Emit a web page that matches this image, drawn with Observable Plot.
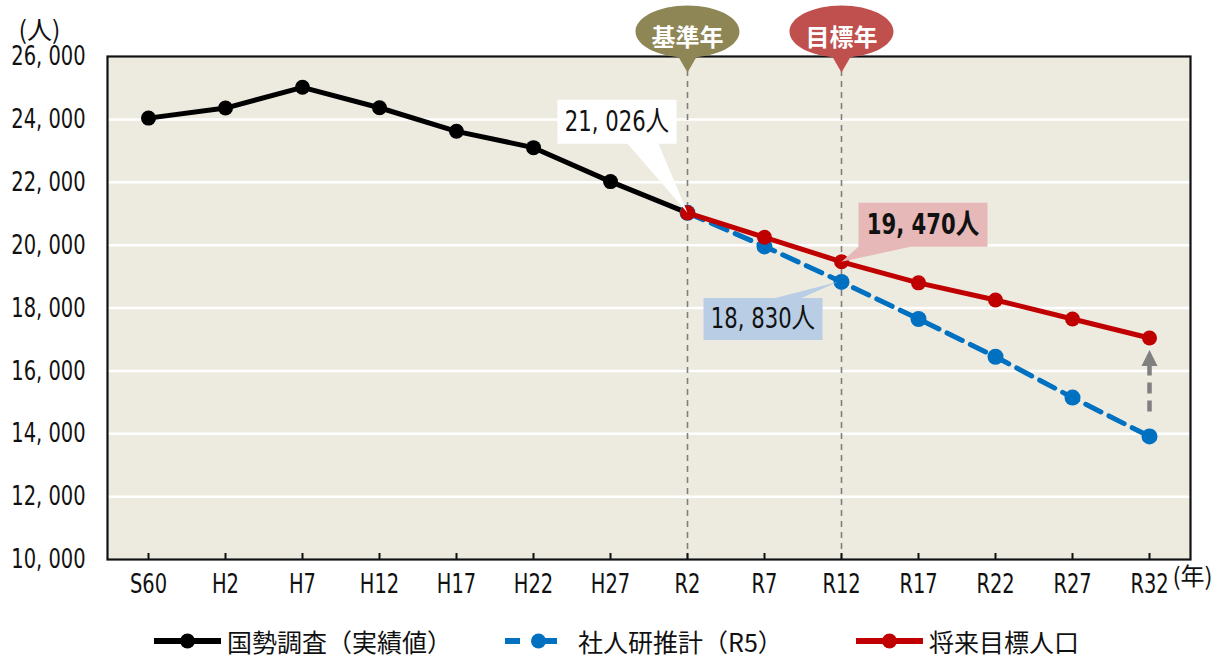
<!DOCTYPE html>
<html>
<head>
<meta charset="utf-8">
<script src="https://cdn.jsdelivr.net/npm/d3@7"></script>
<script src="https://cdn.jsdelivr.net/npm/@observablehq/plot@0.6"></script>
<style>
  html, body { margin: 0; padding: 0; background: #ffffff; }
  body { width: 1223px; height: 657px; overflow: hidden;
         font-family: "DejaVu Sans Condensed", "Noto Sans CJK JP", sans-serif; }
  #legend { height: 57px; padding-top: 24px; box-sizing: border-box; display: flex; justify-content: center; align-items: center;
            font-family: "Noto Sans CJK JP", sans-serif; font-size: 25px; color: #111; padding-left: 10px; }
  .item { display: flex; align-items: center; }
  .item svg { margin-right: 6px; }
</style>
</head>
<body>
<div id="chart"></div>
<div id="legend"></div>
<script>
// ---- data ----
const xLabels = ["S60","H2","H7","H12","H17","H22","H27","R2","R7","R12","R17","R22","R27","R32"];
const censusYears = ["S60","H2","H7","H12","H17","H22","H27","R2"];
const censusValues = [24040, 24360, 25020, 24370, 23620, 23100, 22020, 21026];
const projYears = ["R2","R7","R12","R17","R22","R27","R32"];
const ipssValues = [21026, 19960, 18830, 17650, 16450, 15150, 13915];
const targetValues = [21026, 20250, 19470, 18800, 18255, 17650, 17045];
const yTicks = [10000, 12000, 14000, 16000, 18000, 20000, 22000, 24000, 26000];
const seriesNames = ["国勢調査（実績値）", "社人研推計（R5）", "将来目標人口"];
const seriesColors = ["#000000", "#0070C0", "#C00000"];
const markerYears = ["R2", "R12"];
const markerLabels = ["基準年", "目標年"];
const markerColors = ["#8F8656", "#C0504D"];
const calloutYears = ["R2", "R12", "R12"];
const calloutValues = [21026, 19470, 18830];
const calloutLabels = ["21, 026人", "19, 470人", "18, 830人"];
const calloutFills = ["#FFFFFF", "#E6B9B8", "#B9CDE5"];
const yUnit = "(人)";
const xUnit = "(年)";

// ---- tables ----
const census = censusYears.map((x, i) => ({x, y: censusValues[i]}));
const ipss = projYears.map((x, i) => ({x, y: ipssValues[i]}));
const target = projYears.map((x, i) => ({x, y: targetValues[i]}));
const markers = markerYears.map((x, i) => ({x, label: markerLabels[i], color: markerColors[i]}));
const callouts = calloutYears.map((x, i) => ({x, y: calloutValues[i], label: calloutLabels[i], fill: calloutFills[i]}));
const lastIdx = projYears.length - 1;
const gap = [{x: projYears[lastIdx], top: targetValues[lastIdx], bottom: ipssValues[lastIdx]}];

// ---- custom shapes (styling) ----
function polySymbol(pts) {
  let a = 0;
  for (let i = 0; i < pts.length; i++) { const p = pts[i], q = pts[(i + 1) % pts.length]; a += p[0] * q[1] - q[0] * p[1]; }
  const P = a < 0 ? pts.slice().reverse() : pts;
  return { draw(ctx) { ctx.moveTo(P[0][0], P[0][1]); for (let i = 1; i < P.length; i++) ctx.lineTo(P[i][0], P[i][1]); ctx.closePath(); } };
}
const bubble = {
  draw(ctx) {
    const rx = 52, ry = 26, cy = -25, k = 0.5523;
    ctx.moveTo(rx, cy);
    ctx.bezierCurveTo(rx, cy + k * ry, k * rx, cy + ry, 0, cy + ry);
    ctx.bezierCurveTo(-k * rx, cy + ry, -rx, cy + k * ry, -rx, cy);
    ctx.bezierCurveTo(-rx, cy - k * ry, -k * rx, cy - ry, 0, cy - ry);
    ctx.bezierCurveTo(k * rx, cy - ry, rx, cy - k * ry, rx, cy);
    ctx.closePath();
    ctx.moveTo(11, cy + ry - 4);
    ctx.lineTo(0, 16);
    ctx.lineTo(-11, cy + ry - 4);
    ctx.closePath();
  }
};
const calloutShapes = [
  polySymbol([[-130,-113],[-11,-113],[-11,-69],[-29,-69],[0,0],[-60,-69],[-130,-69]]),
  polySymbol([[17,-59],[146,-59],[146,-15],[69,-15],[0,0],[17,-15]]),
  polySymbol([[-138,16],[-66,16],[-4,0],[-40,16],[-19,16],[-19,58],[-138,58]])
];
const calloutText = [[-70.5, -91], [81.5, -37], [-78.5, 37]];
const arrowHead = polySymbol([[0,12],[8,28],[-8,28]]);

const W = 1223, H = 600;
const mT = 56, mB = 41, mL = 107, mR = 33;
const fontStack = '"DejaVu Sans Condensed", "Noto Sans CJK JP", sans-serif';
const cjk = '"Noto Sans CJK JP", sans-serif';

const marks = [
  Plot.frame({fill: "#EDEAE0", stroke: null}),
  Plot.gridY(yTicks, {stroke: "#ffffff", strokeOpacity: 1, strokeWidth: 2.5}),
  Plot.ruleX(markerYears, {stroke: "#7f7f7f", strokeWidth: 1.6, strokeDasharray: "6,5", insetTop: 14}),
  Plot.axisY({ticks: yTicks, tickSize: 0, tickPadding: 22, fontSize: 27, tickFormat: d => d3.format(",")(d).replace(",", ", "), label: null}),
  Plot.axisX({tickSize: -6, tickPadding: 20, fontSize: 27, strokeWidth: 2, label: null}),
  Plot.text([yUnit], {frameAnchor: "top-left", dx: -89, dy: -35, textAnchor: "start", fontSize: 25, fill: "#111", fontFamily: cjk}),
  Plot.text([xUnit], {frameAnchor: "bottom-right", dx: -18, dy: 25, textAnchor: "start", fontSize: 24, fill: "#111", fontFamily: cjk}),
  // gap arrow
  Plot.ruleX(gap, {x: "x", y1: "top", y2: "bottom", stroke: "#808080", strokeWidth: 4.5, strokeDasharray: "11,7", insetTop: 27, insetBottom: 21}),
  Plot.dot([{x: projYears[lastIdx], y: targetValues[lastIdx]}], {x: "x", y: "y", r: 1, symbol: arrowHead, fill: "#808080", stroke: null}),
  // series
  Plot.line(census, {x: "x", y: "y", stroke: seriesColors[0], strokeWidth: 5}),
  Plot.dot(census, {x: "x", y: "y", r: 7.5, fill: seriesColors[0], stroke: null}),
  Plot.line(ipss, {x: "x", y: "y", stroke: seriesColors[1], strokeWidth: 5, strokeDasharray: "17,9"}),
  Plot.dot(ipss, {x: "x", y: "y", r: 8, fill: seriesColors[1], stroke: null}),
  Plot.line(target, {x: "x", y: "y", stroke: seriesColors[2], strokeWidth: 5}),
  Plot.dot(target, {x: "x", y: "y", r: 7.5, fill: seriesColors[2], stroke: null}),
  Plot.frame({stroke: "#111", strokeWidth: 2.2, fill: null}),
  // marker bubbles
  Plot.dot(markers, {x: "x", frameAnchor: "top", r: 1, symbol: bubble, fill: "color", stroke: null, ariaLabel: "shadow-bubble"}),
  Plot.text(markers, {x: "x", text: "label", frameAnchor: "top", dy: -28, fill: "white", fontSize: 24, fontWeight: "bold", fontFamily: cjk}),
];
callouts.forEach((c, i) => {
  marks.push(Plot.dot([c], {x: "x", y: "y", r: 1, symbol: calloutShapes[i], fill: "fill", stroke: null, ariaLabel: "shadow-callout"}));
  marks.push(Plot.text([c], {x: "x", y: "y", text: "label", dx: calloutText[i][0], dy: calloutText[i][1], fontSize: 28,
    fontWeight: i === 1 ? "bold" : "normal", fill: "#111"}));
});

const chart = Plot.plot({
  width: W, height: H,
  marginTop: mT, marginBottom: mB, marginLeft: mL, marginRight: mR,
  style: {fontFamily: fontStack, fontSize: "27px", background: "white", color: "#111", overflow: "visible"},
  x: {type: "point", domain: xLabels, padding: 0.5},
  y: {domain: [10000, 26000]},
  color: {type: "identity"},
  marks
});
chart.querySelectorAll('[aria-label^="shadow"]').forEach(g => {
  g.style.filter = "drop-shadow(3px 4px 3px rgba(0,0,0,0.45))";
});
document.getElementById("chart").appendChild(chart);

// condensed look for latin tick labels and callout numbers
function squeezeEl(t, f) {
  const L = t.getComputedTextLength();
  if (L > 0) { t.setAttribute("textLength", (L * f).toFixed(1)); t.setAttribute("lengthAdjust", "spacingAndGlyphs"); }
}
chart.querySelectorAll('g[aria-label="y-axis tick label"] text, g[aria-label="x-axis tick label"] text').forEach(t => squeezeEl(t, 0.8));
chart.querySelectorAll("text").forEach(t => { if (calloutLabels.includes(t.textContent)) squeezeEl(t, 0.84); });

// ---- legend ----
const legend = document.getElementById("legend");
const spacing = [53, 73, 0];
seriesNames.forEach((name, i) => {
  const item = document.createElement("div");
  item.className = "item";
  item.style.marginRight = spacing[i] + "px";
  const dash = i === 1 ? ' stroke-dasharray="15,22"' : "";
  item.innerHTML = `<svg width="67" height="20" viewBox="0 0 67 20"><line x1="0" y1="10" x2="67" y2="10" stroke="${seriesColors[i]}" stroke-width="6"${dash}/><circle cx="33.5" cy="10" r="7.5" fill="${seriesColors[i]}"/></svg><span>${name}</span>`;
  legend.appendChild(item);
});
</script>
</body>
</html>
